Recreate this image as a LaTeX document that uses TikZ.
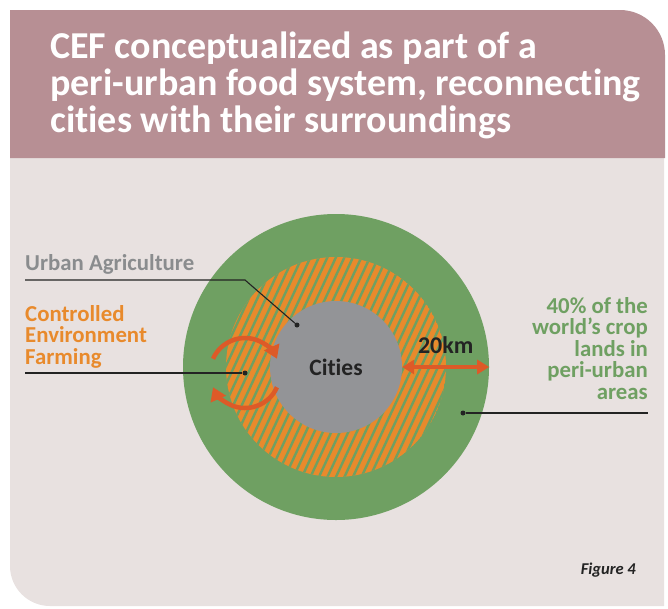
\documentclass[tikz,border=0pt]{standalone}
\usepackage{fontspec}
\setmainfont{Carlito}[Ligatures=NoCommon]
\usetikzlibrary{calc,arrows.meta,positioning}
\definecolor{header}{RGB}{183,143,148}
\definecolor{panel}{RGB}{232,225,224}
\definecolor{leaf}{RGB}{111,160,98}
\definecolor{harvest}{RGB}{232,138,44}
\definecolor{citygray}{RGB}{147,148,151}
\definecolor{arrowred}{RGB}{221,90,40}
\definecolor{graytext}{RGB}{138,140,142}
\definecolor{ink}{RGB}{35,35,35}

\begin{document}
\begin{tikzpicture}[x=1pt,y=-1pt,
  lbl/.style={font=\bfseries\fontsize{22.8}{21.5}\selectfont,inner sep=0pt},
  pointer/.style={draw=ink,line width=1.1pt},
  bullet/.style={circle,fill=ink,inner sep=0pt,minimum size=5pt},
  turn/.style={draw=arrowred,line width=4.5pt,-{Triangle[length=13pt,width=16pt]}},
  span/.style={draw=arrowred,line width=4.5pt,{Triangle[length=12pt,width=14pt]}-{Triangle[length=12pt,width=14pt]}},
  ring/.style={circle,inner sep=0pt}]
\useasboundingbox (0,0) rectangle (668,608);
% card
\fill[panel] (10,158) -- (664,158) -- (664,606) -- (50,606) arc[start angle=90,end angle=180,radius=40] -- cycle;
\fill[header] (10,158) -- (10,10) -- (620,10) arc[start angle=-90,end angle=0,radius=45] -- (665,158) -- cycle;
\node[anchor=north west,align=left,text=white,inner sep=0pt,
  font=\bfseries\fontsize{38}{37}\selectfont] (title) at (50,32)
  {CEF conceptualized as part of a\\peri-urban food system, reconnecting\\cities with their surroundings};

% rings
\coordinate (c) at (336,367);
\node[ring,fill=leaf,minimum size=306pt] (periurban) at (c) {};
\begin{scope}
  \clip (c) circle[radius=110];
  \fill[harvest] (c) circle[radius=110];
  \foreach \i in {-24,...,24}
    \draw[leaf,line width=2.4pt] ($(c)+(\i*8.5-65,140)$) -- ++(130,-280);
\end{scope}
\node[ring,minimum size=220pt] (urban) at (c) {};
\node[ring,fill=citygray,minimum size=132pt,text=ink,font=\bfseries\fontsize{23.5}{24}\selectfont] (cities) at (c) {Cities};

% 20 km
\draw[span] (cities.east) -- (periurban.east) node[midway,above=11pt,lbl,text=ink,font=\bfseries\fontsize{24}{24}\selectfont] (km) {20km};

% labels
\node[lbl,text=graytext,anchor=base west] (ua) at (25,270) {Urban Agriculture};
\node[bullet] (uadot) at (297,325) {};
\draw[pointer] (ua.base west) ++(0,10) coordinate (uaend) -- ++(220,0) -- (uadot);

\node[lbl,text=harvest,anchor=north west,align=left] (cef) at (25,305) {Controlled\\Environment\\Farming};
\node[bullet] (cefdot) at (245,373) {};
\coordinate (cefend) at (25,373);
\draw[pointer] (cefend) -- (cefdot);
\draw[turn] ($(cefdot)+(-156:35)$) arc[start angle=-156,end angle=-24,radius=35];
\draw[turn] ($(cefdot)+(24:35)$) arc[start angle=24,end angle=156,radius=35];

\node[lbl,text=leaf,anchor=north east,align=right] (crop) at (648,297) {40\% of the\\world’s crop\\lands in\\peri-urban\\areas};
\node[bullet] (cropdot) at (463,413) {};
\coordinate (cropend) at (648,413);
\draw[pointer] (cropdot) -- (cropend);

\node[anchor=base east,inner sep=0pt,text=ink,font=\bfseries\itshape\fontsize{16.5}{18}\selectfont] (fig) at (636,574) {Figure 4};
\end{tikzpicture}
\end{document}
